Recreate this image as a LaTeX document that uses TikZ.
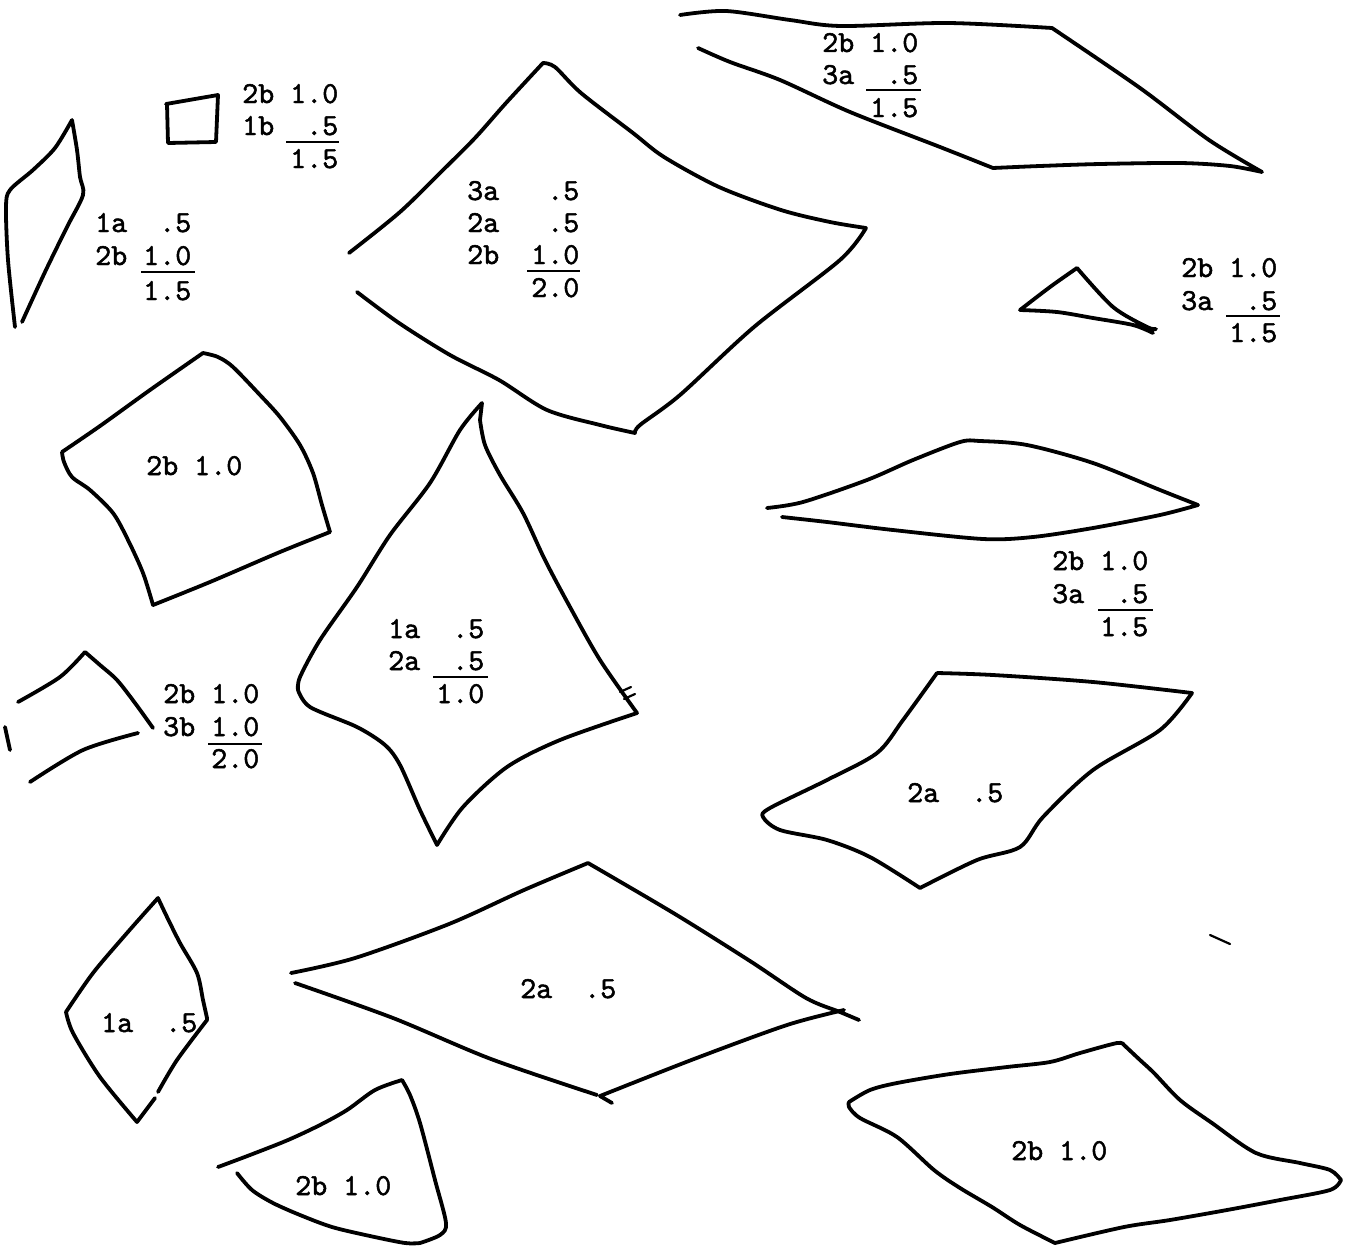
\documentclass[tikz,border=0pt]{standalone}
\usepackage{fontspec}
\newfontfamily\typew[FakeBold=1.6]{lmmono10-regular.otf}
\begin{document}
\begin{tikzpicture}[x=1pt,y=-1pt,
  stroke/.style={line width=3.8pt,line cap=round,line join=round},
  thinstroke/.style={line width=2.2pt,line cap=round},
  sumrule/.style={line width=2.5pt},
  lbl/.style={anchor=base west,inner sep=0pt,font=\typew\fontsize{30.5}{36}\selectfont}]
\fill[white] (0,0) rectangle (1348,1247);
\useasboundingbox (0,0) rectangle (1348,1247);

% A: tall left quad
\draw[stroke] plot[smooth,tension=.5] coordinates {(15,327) (8,260) (6,207) (10,190) (33,170) (55,148) (72,120)}
  -- plot[smooth,tension=.5] coordinates {(72,120) (77,150) (80,177) (83,195) (67,227) (45,272) (22,322)};
% B: small square
\draw[stroke] (166,104) -- (218,95) -- (216,142) -- (168,143) -- (167,104);
% C: big top-middle quad
\draw[stroke] plot[smooth,tension=.5] coordinates {(349,253) (400,212) (443,170) (475,138) (506,103) (543,63)}
  -- plot[smooth,tension=.5] coordinates {(543,63) (555,67) (581,93) (633,133) (664,157) (719,187) (781,210) (830,222) (866,228)}
  -- plot[smooth,tension=.5] coordinates {(866,228) (840,260) (754,327) (680,395) (640,425) (635,433)}
  -- plot[smooth,tension=.5] coordinates {(635,433) (600,425) (547,410) (499,380) (450,355) (399,323) (357,292)};
% D: top-right long shape
\draw[stroke] plot[smooth,tension=.5] coordinates {(680,15) (726,11) (790,20) (841,26) (948,23) (1052,28)}
  -- plot[smooth,tension=.5] coordinates {(1052,28) (1140,88) (1209,140) (1262,172)}
  -- plot[smooth,tension=.5] coordinates {(1262,172) (1230,166) (1180,163) (1100,164) (1040,166) (993,168)}
  -- plot[smooth,tension=.5] coordinates {(993,168) (940,147) (850,112) (780,80) (730,62) (698,48)};
% E: small triangle
\draw[stroke] plot[smooth,tension=.5] coordinates {(1153,333) (1133,325) (1093,318) (1057,312) (1020,310)}
  -- plot[smooth,tension=.5] coordinates {(1020,310) (1050,287) (1077,268)}
  -- plot[smooth,tension=.5] coordinates {(1077,268) (1113,307) (1147,327) (1156,329)};
% F: quad 2b 1.0
\draw[stroke] plot[smooth,tension=.5] coordinates {(62,452) (100,426) (150,390) (203,353)}
  -- plot[smooth,tension=.5] coordinates {(203,353) (218,357) (233,367) (260,395) (280,417) (300,445) (313,473) (322,505) (330,532)}
  -- plot[smooth,tension=.5] coordinates {(330,532) (280,552) (210,582) (153,605)}
  -- plot[smooth,tension=.5] coordinates {(153,605) (143,573) (128,540) (113,513) (90,490) (72,477) (64,462) (62,452)};
% G: open shape with 3b
\draw[stroke] plot[smooth,tension=.5] coordinates {(18,702) (60,677) (85,652)}
  -- plot[smooth,tension=.5] coordinates {(85,652) (100,665) (117,680) (135,703) (153,728)};
\draw[stroke] plot[smooth,tension=.5] coordinates {(138,733) (83,750) (30,782)};
\draw[stroke] (5,727) -- (10,750);
% H: big kite
\draw[stroke] plot[smooth,tension=.5] coordinates {(480,420) (482,403)}
  -- plot[smooth,tension=.5] coordinates {(482,403) (460,430) (430,483) (390,535) (357,587) (320,640) (300,677) (298,690)}
  -- plot[smooth,tension=.5] coordinates {(298,690) (310,707) (357,727) (385,745) (400,765) (420,810) (437,845)}
  -- plot[smooth,tension=.5] coordinates {(437,845) (463,807) (507,767) (560,740) (637,713)}
  -- plot[smooth,tension=.5] coordinates {(637,713) (600,660) (570,607) (545,560) (523,513) (500,475) (485,445) (480,420)};
\draw[thinstroke] (620,692) -- (631,687);
\draw[thinstroke] (624,699) -- (635,694);
% I: lens
\draw[stroke] plot[smooth,tension=.5] coordinates {(767,508) (803,502) (867,480) (913,460) (960,442) (980,441) (1027,445) (1093,463) (1160,490) (1198,505)}
  -- plot[smooth,tension=.5] coordinates {(1198,505) (1160,515) (1093,528) (1033,537) (983,539) (893,530) (827,522) (782,517)};
% J: quad 2a .5
\draw[stroke] plot[smooth,tension=.5] coordinates {(937,673) (993,675) (1093,682) (1192,693)}
  -- plot[smooth,tension=.5] coordinates {(1192,693) (1160,730) (1093,770) (1043,817) (1020,847) (977,860) (920,888)}
  -- plot[smooth,tension=.5] coordinates {(920,888) (870,857) (827,840) (780,830) (763,817) (770,808) (827,780) (877,753) (903,720) (937,673)};
% K: small kite
\draw[stroke] plot[smooth,tension=.5] coordinates {(155,1098) (137,1122)}
  -- plot[smooth,tension=.5] coordinates {(137,1122) (100,1077) (73,1033) (66,1012)}
  -- plot[smooth,tension=.5] coordinates {(66,1012) (93,973) (127,933) (158,898)}
  -- plot[smooth,tension=.5] coordinates {(158,898) (167,917) (180,943) (197,973) (203,1000) (207,1018)}
  -- plot[smooth,tension=.5] coordinates {(207,1020) (177,1060) (158,1092)};
% L: big diamond
\draw[stroke] plot[smooth,tension=.5] coordinates {(291,973) (355,958) (449,924) (524,890) (588,863)}
  -- plot[smooth,tension=.5] coordinates {(588,863) (675,914) (750,961) (806,998) (840,1012) (859,1020)};
\draw[stroke] plot[smooth,tension=.5] coordinates {(295,983) (393,1018) (491,1059) (597,1095)};
\draw[stroke] (612,1103) -- (600,1096) -- plot[smooth,tension=.5] coordinates {(600,1096) (694,1059) (787,1025) (844,1010)};
% M: bottom-left triangle
\draw[stroke] plot[smooth,tension=.5] coordinates {(218,1167) (250,1155) (288,1140) (320,1125) (347,1110) (375,1090) (402,1080)}
  -- plot[smooth,tension=.5] coordinates {(402,1080) (410,1095) (420,1123) (435,1180) (446,1223) (440,1235) (420,1243)};
\draw[stroke] plot[smooth,tension=.5] coordinates {(237,1173) (252,1190) (273,1203) (300,1215) (332,1227) (370,1236) (405,1243) (420,1243)};
% N: bottom-right quad
\draw[stroke] plot[smooth,tension=.5] coordinates {(849,1102) (870,1090) (897,1083) (950,1074) (1007,1067) (1050,1062) (1080,1053) (1117,1043) (1124,1045)}
  -- plot[smooth,tension=.5] coordinates {(1124,1045) (1140,1060) (1154,1073) (1180,1100) (1212,1123) (1256,1153) (1300,1163) (1330,1170) (1341,1180)}
  -- plot[smooth,tension=.5] coordinates {(1341,1180) (1330,1190) (1280,1200) (1227,1210) (1170,1220) (1124,1227) (1055,1243)}
  -- plot[smooth,tension=.5] coordinates {(1055,1243) (1020,1225) (992,1207) (960,1188) (934,1170) (897,1137) (860,1118) (849,1107) (849,1102)};
% stray mark
\draw[thinstroke] (1210,935) -- (1230,944);

% labels
\node[lbl] (l1a) at (242,103) {2b~1.0};
\node[lbl] (l1b) at (242,135) {1b~~.5};
\node[lbl] (l1c) at (242,168) {~~~1.5};
\draw[sumrule] (286,142) -- (339,142);

\node[lbl] (l2a) at (95,232) {1a~~.5};
\node[lbl] (l2b) at (95,265) {2b~1.0};
\node[lbl] (l2c) at (95,300) {~~~1.5};
\draw[sumrule] (141,272) -- (195,272);

\node[lbl] (l3a) at (467,200) {3a~~~.5};
\node[lbl] (l3b) at (467,232) {2a~~~.5};
\node[lbl] (l3c) at (467,264) {2b~~1.0};
\node[lbl] (l3d) at (467,297) {~~~~2.0};
\draw[sumrule] (527,271) -- (580,271);

\node[lbl] (l4a) at (822,52) {2b~1.0};
\node[lbl] (l4b) at (822,84) {3a~~.5};
\node[lbl] (l4c) at (822,117) {~~~1.5};
\draw[sumrule] (866,90) -- (921,90);

\node[lbl] (l5a) at (1181,277) {2b~1.0};
\node[lbl] (l5b) at (1181,310) {3a~~.5};
\node[lbl] (l5c) at (1181,342) {~~~1.5};
\draw[sumrule] (1226,316) -- (1280,316);

\node[lbl] (l6) at (146,475) {2b~1.0};

\node[lbl] (l7a) at (1052,570) {2b~1.0};
\node[lbl] (l7b) at (1052,603) {3a~~.5};
\node[lbl] (l7c) at (1052,636) {~~~1.5};
\draw[sumrule] (1098,610) -- (1153,610);

\node[lbl] (l8a) at (163,703) {2b~1.0};
\node[lbl] (l8b) at (163,736) {3b~1.0};
\node[lbl] (l8c) at (163,768) {~~~2.0};
\draw[sumrule] (208,744) -- (262,744);

\node[lbl] (l9a) at (388,638) {1a~~.5};
\node[lbl] (l9b) at (388,670) {2a~~.5};
\node[lbl] (l9c) at (388,703) {~~~1.0};
\draw[sumrule] (433,677) -- (488,677);

\node[lbl] (l10) at (907,802) {2a~~.5};
\node[lbl] (l11) at (101,1032) {1a~~.5};
\node[lbl] (l12) at (520,998) {2a~~.5};
\node[lbl] (l13) at (295,1195) {2b~1.0};
\node[lbl] (l14) at (1011,1160) {2b~1.0};
\end{tikzpicture}
\end{document}
